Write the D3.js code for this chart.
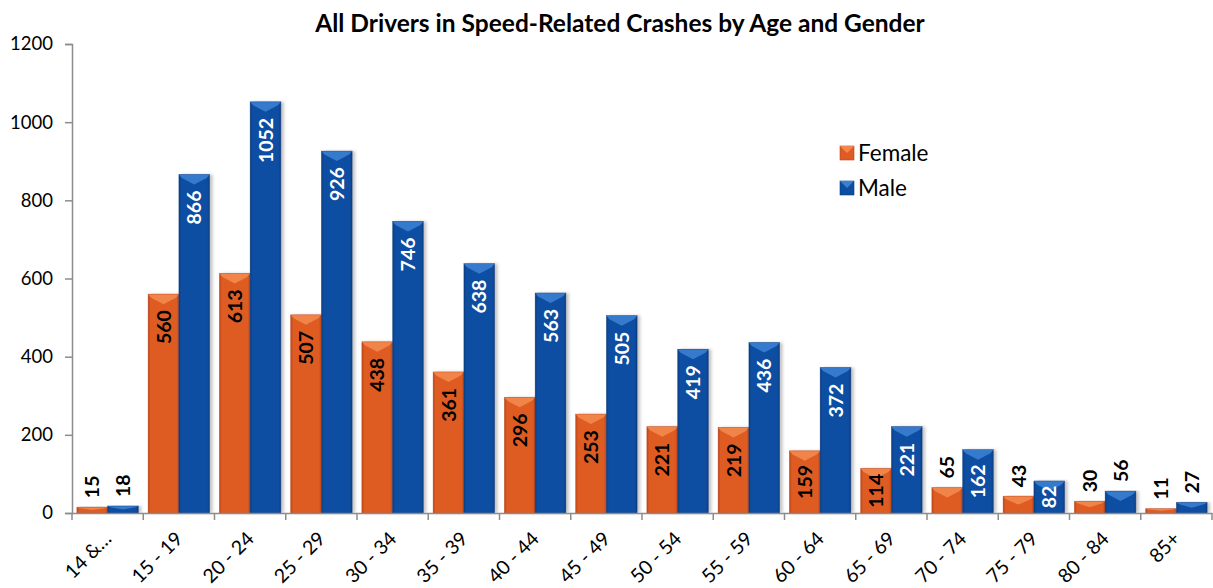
<!DOCTYPE html>
<html><head><meta charset="utf-8">
<script src="https://cdn.jsdelivr.net/npm/d3@7"></script>
<style>
body{margin:0;background:#fff;}
text{font-family:Lato,"Open Sans",sans-serif;}
</style></head>
<body><svg id="c" width="1213" height="588"></svg>
<script>
const categories = ["14 &\u2026","15 - 19","20 - 24","25 - 29","30 - 34","35 - 39","40 - 44","45 - 49","50 - 54","55 - 59","60 - 64","65 - 69","70 - 74","75 - 79","80 - 84","85+"];
const female = [15,560,613,507,438,361,296,253,221,219,159,114,65,43,30,11];
const male = [18,866,1052,926,746,638,563,505,419,436,372,221,162,82,56,27];
const seriesNames = ["Female","Male"];
const yTicks = [0,200,400,600,800,1000,1200];
const title = "All Drivers in Speed-Related Crashes by Age and Gender";

(function(){
const svg = d3.select("#c");
const mLeft = 72, mRight = 1212, mTop = 44, mBottom = 513;
const x0 = d3.scaleBand().domain(categories).range([mLeft, mRight]).padding(0);
const step = x0.bandwidth();
const x1 = d3.scaleBand().domain(seriesNames).range([step*0.068, step*(1-0.068)]).padding(0);
const y = d3.scaleLinear().domain([0,1200]).range([mBottom, mTop]);

const colors = {
  Female:{main:"#DE5C24", light:"#F3884E", dark:"#B9451A", label:"#000"},
  Male:{main:"#0B4EA2", light:"#3B7FD3", dark:"#073C80", label:"#fff"}
};

const defs = svg.append("defs");
const f = defs.append("filter").attr("id","sh").attr("x","-20%").attr("y","-5%").attr("width","150%").attr("height","115%");
f.append("feDropShadow").attr("dx",3).attr("dy",0).attr("stdDeviation",1.5).attr("flood-color","#808080").attr("flood-opacity",0.45);
seriesNames.forEach(s=>{
  const g = defs.append("linearGradient").attr("id","g"+s).attr("x1","0").attr("x2","1").attr("y1","0").attr("y2","0");
  g.append("stop").attr("offset","0").attr("stop-color",colors[s].dark);
  g.append("stop").attr("offset","0.08").attr("stop-color",colors[s].main);
  g.append("stop").attr("offset","0.92").attr("stop-color",colors[s].main);
  g.append("stop").attr("offset","1").attr("stop-color",colors[s].dark);
});

// Title
svg.append("text").attr("x",620).attr("y",32).attr("text-anchor","middle")
  .attr("font-size",24.5).attr("font-weight","bold").attr("fill","#000").text(title);

// Y axis
const yAxis = d3.axisLeft(y).tickValues(yTicks).tickSize(7).tickPadding(12).tickFormat(d3.format("d"));
const ya = svg.append("g").attr("transform",`translate(${mLeft},0)`).call(yAxis);
ya.selectAll("path,line").attr("stroke","#8C8C8C").attr("stroke-width",1.5);
ya.selectAll("text").attr("font-size",18.5).attr("fill","#000").attr("font-family","Lato,sans-serif");

// Bars
const data = categories.map((c,i)=>({cat:c, vals:[{s:"Female",v:female[i]},{s:"Male",v:male[i]}]}));
const groups = svg.append("g").selectAll("g").data(data).join("g")
  .attr("transform",d=>`translate(${x0(d.cat)},0)`);
const bw = x1.bandwidth();
const bars = groups.selectAll("g.bar").data(d=>d.vals).join("g").attr("class","bar");
bars.append("rect").attr("x",d=>x1(d.s)).attr("y",d=>y(d.v)).attr("width",bw)
  .attr("height",d=>mBottom-y(d.v)).attr("fill",d=>`url(#g${d.s})`).attr("filter","url(#sh)");
bars.append("path").attr("d",d=>{
  const xa = x1(d.s), ya2 = y(d.v), h = Math.min(10, (mBottom-ya2)/2);
  return `M${xa},${ya2} L${xa+bw},${ya2} L${xa+bw-3},${ya2+h*0.35} L${xa+bw/2},${ya2+h} L${xa+3},${ya2+h*0.35} Z`;
}).attr("fill",d=>colors[d.s].light).attr("opacity",0.9);
bars.append("rect").attr("x",d=>x1(d.s)).attr("y",d=>y(d.v)).attr("width",bw)
  .attr("height",d=>mBottom-y(d.v)).attr("fill","none").attr("stroke",d=>colors[d.s].dark).attr("stroke-width",0.6).attr("opacity",0.6);

// Labels
const fs = 19.5, adv = fs*0.58;
const tlen = d => String(d.v).length*adv;
const inside = d => (mBottom-y(d.v)) >= tlen(d)+5;
bars.append("text")
  .attr("font-size",fs).attr("font-weight","bold")
  .attr("text-anchor",d=> inside(d) ? "end" : "start")
  .attr("fill",d=> inside(d) ? colors[d.s].label : "#000")
  .attr("transform",d=>{
    const h = mBottom-y(d.v), tl = tlen(d);
    const cx = x1(d.s)+bw/2+fs*0.36;
    let yy;
    if (inside(d)) { yy = y(d.v) + Math.min(16, Math.max(3, (h-tl)/2)); }
    else { yy = y(d.v) - 9; }
    return `translate(${cx},${yy}) rotate(-90)`;
  })
  .text(d=>d.v);

// X axis
const xAxis = d3.axisBottom(x0).tickSize(0).tickFormat("");
const xa = svg.append("g").attr("transform",`translate(0,${mBottom})`).call(xAxis);
xa.select("path").attr("stroke","#8C8C8C").attr("stroke-width",1.5);
const tickPos = categories.map(c=>x0(c)).concat([mRight]);
svg.append("g").selectAll("line").data(tickPos).join("line")
  .attr("x1",d=>d).attr("x2",d=>d).attr("y1",mBottom).attr("y2",mBottom+7)
  .attr("stroke","#8C8C8C").attr("stroke-width",1.5);
svg.append("g").selectAll("text").data(categories).join("text")
  .attr("transform",c=>`translate(${x0(c)+step/2+5},${mBottom+27}) rotate(-45)`)
  .attr("text-anchor","end").attr("font-size",19.5).attr("fill","#000").text(c=>c);

// Legend
const leg = svg.append("g");
seriesNames.forEach((s,i)=>{
  const ly = 153 + i*35;
  leg.append("rect").attr("x",840).attr("y",ly-7).attr("width",14).attr("height",14).attr("fill",colors[s].main).attr("stroke",colors[s].dark).attr("stroke-width",0.6);
  leg.append("path").attr("d",`M840,${ly-7} L854,${ly-7} L847,${ly}Z`).attr("fill",colors[s].light);
  leg.append("text").attr("x",858).attr("y",ly+8).attr("font-size",22.5).attr("fill","#000").text(s);
});
})();
</script></body></html>
